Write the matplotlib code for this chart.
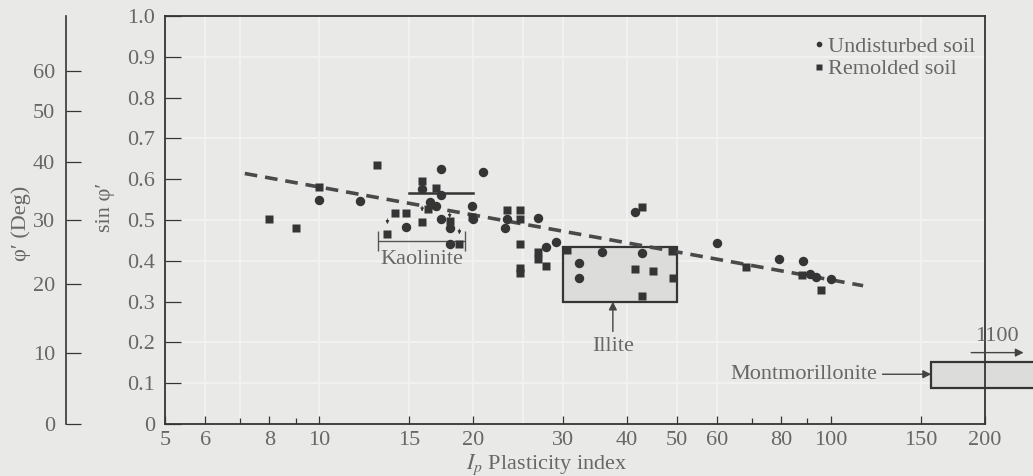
import numpy as np
import matplotlib.pyplot as plt

plt.rcParams['font.family'] = ['Liberation Serif', 'DejaVu Serif']
plt.rcParams['mathtext.fontset'] = 'stix'

# Plasticity index vs sin(phi')
ip_undisturbed = [10, 12.0, 17.3, 20.9, 15.9, 17.3, 16.5, 16.9, 19.9, 20.0, 14.8, 17.3,
                  18.0, 18.0, 23.3, 23.1, 26.8, 27.8, 29.1, 41.4, 35.7, 42.7, 32.2, 32.2,
                  59.9, 79.1, 88.3, 91, 93.6, 100]
sin_undisturbed = [0.548, 0.547, 0.624, 0.618, 0.576, 0.561, 0.545, 0.535, 0.534, 0.502,
                   0.482, 0.502, 0.480, 0.440, 0.502, 0.481, 0.506, 0.435, 0.447, 0.519,
                   0.422, 0.418, 0.394, 0.359, 0.444, 0.404, 0.400, 0.367, 0.361, 0.355]

ip_remolded = [8.0, 9.0, 10, 13.0, 15.9, 16.9, 16.3, 19.9, 14.1, 14.8, 15.9, 18.0, 13.6,
               18.8, 23.3, 24.7, 24.7, 24.7, 26.8, 26.8, 27.8, 24.7, 24.7, 42.7, 30.5,
               41.4, 45.0, 49.2, 42.7, 49.0, 68.4, 95.8, 88]
sin_remolded = [0.502, 0.480, 0.580, 0.635, 0.596, 0.579, 0.526, 0.507, 0.518, 0.516,
                0.496, 0.498, 0.465, 0.440, 0.525, 0.525, 0.502, 0.441, 0.422, 0.404,
                0.387, 0.382, 0.370, 0.531, 0.426, 0.380, 0.376, 0.357, 0.314, 0.425,
                0.384, 0.328, 0.365]

# small arrows above some kaolinite points
arrow_ip = [13.6, 14.8, 15.9, 18.0, 18.8]
arrow_sin = [0.465, 0.482, 0.496, 0.480, 0.440]

# trend line
ip_fit = [7.16, 115.6]
sin_fit = [0.614, 0.339]

# mineral zones
kaolinite_bar = [15, 20, 0.565]
kaolinite_range = [13.0, 19.2, 0.449]
illite_box = [30, 50, 0.30, 0.435]
montmorillonite_box = [157, 260, 0.089, 0.153]

xticks = [5, 6, 8, 10, 15, 20, 30, 40, 50, 60, 80, 100, 150, 200]
xminor = [7, 9, 70, 90]
yticks = [0, 0.1, 0.2, 0.3, 0.4, 0.5, 0.6, 0.7, 0.8, 0.9, 1.0]
deg_ticks = [0, 10, 20, 30, 40, 50, 60]

bg = '#e9e9e8'
ink = '#353535'
txt = '#676767'
fs = 16

fig = plt.figure(figsize=(10.33, 4.76), dpi=100, facecolor=bg)
ax = fig.add_axes([0.1597, 0.1092, 0.7938, 0.8572], facecolor=bg)
ax.set_xscale('log')
ax.set_xlim(5, 200)
ax.set_ylim(0, 1.0)

# faint scan-like grid
for g in [6, 7, 10, 15, 20, 25, 30, 40, 50, 60, 150]:
    ax.axvline(g, color='#f1f1f0', lw=1.5, zorder=0)
for g in [0.1, 0.2, 0.4, 0.5, 0.7, 0.9]:
    ax.axhline(g, color='#f1f1f0', lw=1.5, zorder=0)

ax.plot(ip_fit, sin_fit, ls=(0, (3.5, 2.2)), color='#4a4a4a', lw=2.6, zorder=2)

ax.plot(ip_undisturbed, sin_undisturbed, 'o', color=ink, ms=6.8, mec='none', zorder=3,
        label='Undisturbed soil')
ax.plot(ip_remolded, sin_remolded, 's', color=ink, ms=6.2, mec='none', zorder=3,
        label='Remolded soil')

for xa, ya in zip(arrow_ip, arrow_sin):
    ax.annotate('', xy=(xa, ya + 0.018), xytext=(xa, ya + 0.045),
                arrowprops=dict(arrowstyle='-|>', color=ink, lw=0.6, mutation_scale=5))

# kaolinite
ax.plot(kaolinite_bar[:2], [kaolinite_bar[2]] * 2, color=ink, lw=1.8, zorder=2)
ax.errorbar([(kaolinite_range[0] + kaolinite_range[1]) / 2], [kaolinite_range[2]],
            xerr=[[(kaolinite_range[1] - kaolinite_range[0]) / 2 - 0.06],
                  [(kaolinite_range[1] - kaolinite_range[0]) / 2 + 0.06]],
            fmt='none', ecolor='#555555', elinewidth=1.0, capsize=7, capthick=1.0)
ax.text(15.9, 0.404, 'Kaolinite', ha='center', va='center', fontsize=fs, color=txt)

# illite
x0, x1, y0, y1 = illite_box
ax.add_patch(plt.Rectangle((x0, y0), x1 - x0, y1 - y0, facecolor='#dcdcdb',
                           edgecolor=ink, lw=1.6, zorder=1))
ax.annotate('Illite', xy=(37.5, 0.30), xytext=(37.5, 0.19), ha='center', va='center',
            fontsize=fs, color=txt,
            arrowprops=dict(arrowstyle='-|>', color='#444444', lw=1.0, mutation_scale=12,
                            shrinkA=2, shrinkB=0))

# montmorillonite
x0, x1, y0, y1 = montmorillonite_box
ax.add_patch(plt.Rectangle((x0, y0), x1 - x0, y1 - y0, facecolor='#dcdcdb',
                           edgecolor=ink, lw=1.6, zorder=1, clip_on=False))
ax.annotate('Montmorillonite', xy=(x0, 0.122), xytext=(123, 0.122), ha='right',
            va='center', fontsize=fs, color=txt,
            arrowprops=dict(arrowstyle='-|>', color='#444444', lw=1.0, mutation_scale=12,
                            shrinkA=2, shrinkB=0))
ax.annotate('', xy=(238, 0.175), xytext=(188, 0.175), annotation_clip=False,
            arrowprops=dict(arrowstyle='-|>', color='#444444', lw=1.0, mutation_scale=12,
                            shrinkA=0, shrinkB=0))
ax.text(211, 0.215, '1100', ha='center', va='center', fontsize=fs, color=txt,
        clip_on=False)

ax.set_xticks(xticks)
ax.set_xticklabels([str(t) for t in xticks])
ax.set_xticks(xminor, minor=True)
ax.set_xticklabels([], minor=True)
ax.set_yticks(yticks)
ax.set_yticklabels(['0'] + ['%.1f' % t for t in yticks[1:]])
ax.tick_params(axis='x', which='major', direction='in', length=6, width=0.9,
               color=ink, labelsize=fs, labelcolor=txt, pad=5)
ax.tick_params(axis='x', which='minor', direction='in', length=4, width=0.9, color=ink)
ax.tick_params(axis='y', direction='in', length=11.5, width=0.9, color=ink,
               labelsize=fs, labelcolor=txt, pad=7)
for s in ax.spines.values():
    s.set_color(ink)
    s.set_linewidth(1.3)

ax.set_xlabel('$I_p$ Plasticity index', fontsize=fs, color=txt)
ax.xaxis.set_label_coords(0.466, -0.07)
ax.set_ylabel("sin φ′", fontsize=fs, color=txt)
ax.yaxis.set_label_coords(-0.061, 0.53)

leg = ax.legend(loc='upper right', frameon=False, fontsize=fs, handletextpad=0.05,
                handlelength=0.7, borderaxespad=0.5, labelspacing=0.1, markerscale=0.6,
                labelcolor=txt, bbox_to_anchor=(1.012, 1.0))

# outer phi' axis in degrees
ax2 = fig.add_axes([0.0639, 0.1092, 0.0001, 0.8572], facecolor='none')
ax2.set_ylim(0, 1.0)
ax2.set_xticks([])
ax2.set_yticks(np.sin(np.radians(deg_ticks)))
ax2.set_yticklabels([str(d) for d in deg_ticks])
ax2.tick_params(axis='y', direction='in', length=10.5, width=0.9, color=ink,
                labelsize=fs, labelcolor=txt, pad=8)
for k in ['top', 'right', 'bottom']:
    ax2.spines[k].set_visible(False)
ax2.spines['left'].set_color(ink)
ax2.spines['left'].set_linewidth(1.2)
fig.text(0.02, 0.53, "φ′ (Deg)", rotation=90, ha='center', va='center', fontsize=fs,
         color=txt)

fig.savefig('out.png', dpi=100, facecolor=bg)
